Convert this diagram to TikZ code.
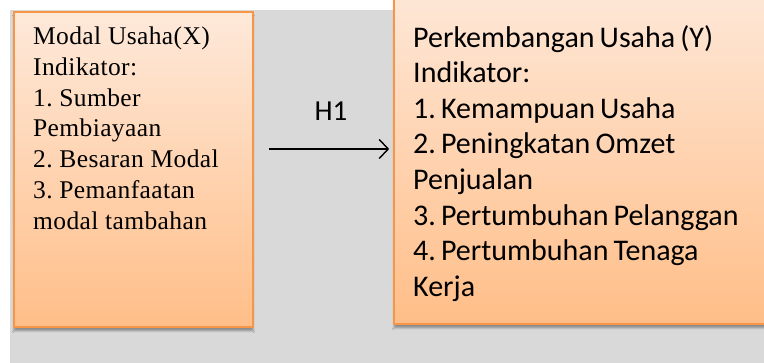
\documentclass[tikz,border=0pt]{standalone}
\usepackage{fontspec}
\setmainfont[LetterSpace=1.5]{Liberation Serif}
\newfontfamily\calfont[WordSpace=0.75]{Carlito}
\usepackage{tikz}
\usetikzlibrary{calc,positioning,arrows.meta,shadows.blur}
\definecolor{pchtop}{RGB}{254,233,218}
\definecolor{pchbot}{RGB}{255,190,136}
\definecolor{pchline}{RGB}{247,150,70}
\definecolor{bggrey}{RGB}{217,217,217}
\tikzset{bx/.style={draw=pchline,line width=1.6pt,top color=pchtop,bottom color=pchbot,rectangle,inner sep=0pt,
blur shadow={shadow xshift=0pt,shadow yshift=-4pt,shadow blur steps=6,shadow opacity=35}},
tx/.style={anchor=north west,inner sep=0pt,align=left,text=black}}
\frenchspacing

\begin{document}
\begin{tikzpicture}[x=1pt,y=1pt,arr/.style={-{Straight Barb[length=9pt,width=19pt,line width=1.4pt]},line width=1.4pt,black}]
		\useasboundingbox (0,0) rectangle (764,363);
		\clip (0,0) rectangle (764,363);
		\fill[bggrey] (10,0) rectangle (764,353);

		\node[bx,minimum width=239pt,minimum height=315pt] (modal) at (133.5,193.5) {};
		\node[bx,minimum width=406pt,minimum height=344pt] (usaha) at (597,211) {};

		\node[tx,font=\fontsize{25.5}{30.7}\selectfont] (modaltxt) at (33,336) {Modal Usaha(X)\\Indikator:\\1. Sumber\\Pembiayaan\\2. Besaran Modal\\3. Pemanfaatan\\modal tambahan};
		\node[tx,font=\calfont\fontsize{30}{35.6}\selectfont] (usahatxt) at (413,338) {Perkembangan Usaha (Y)\\Indikator:\\1. Kemampuan Usaha\\2. Peningkatan Omzet\\Penjualan\\3. Pertumbuhan Pelanggan\\4. Pertumbuhan Tenaga\\Kerja};

		\coordinate (mid) at (329,214);
		\node[font=\calfont\fontsize{29}{32}\selectfont,inner sep=0pt] (h1) at (331,252) {H1};
		\draw[arr,shorten <=15pt,shorten >=4pt] (modal.east |- mid) -- (usaha.west |- mid);
	\end{tikzpicture}
\end{document}
